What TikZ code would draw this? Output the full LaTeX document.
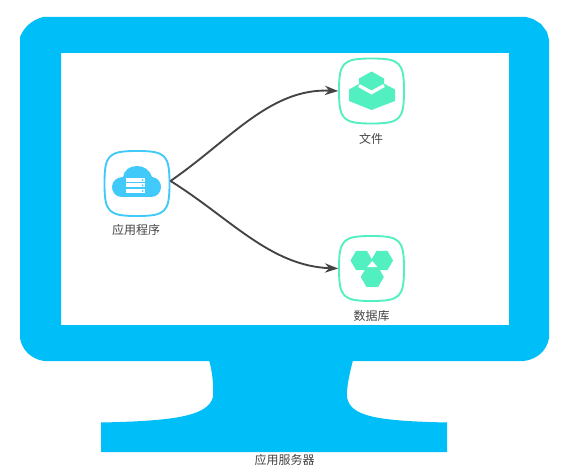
\documentclass[tikz,border=0pt]{standalone}
\usepackage{fontspec}
\setmainfont{Noto Sans CJK SC}
\usetikzlibrary{calc,arrows.meta}
\definecolor{monblue}{HTML}{00BEF7}
\definecolor{cloudblue}{HTML}{40C9F9}
\definecolor{minty}{HTML}{52EFC0}
\definecolor{txtgray}{HTML}{444444}
\tikzset{
  px/.style={x=0.75pt,y=-0.75pt},
  holder/.style={minimum width=48.75pt,minimum height=48.75pt,inner sep=0pt,outer sep=0pt},
  lbl/.style={text=txtgray,font=\fontsize{9pt}{10pt}\selectfont,inner sep=0pt},
  link/.style={draw=txtgray,line width=1.4pt,-{Stealth[length=10pt,width=7pt]}},
  mono/.style={fill=monblue,draw=none}
}
\newcommand{\squircle}[2]{%
  \draw[draw=#2,line width=1.4pt]
    (#1.north) .. controls ($(#1.north)!.88!(#1.north east)$) and ($(#1.east)!.88!(#1.north east)$) .. (#1.east)
    .. controls ($(#1.east)!.88!(#1.south east)$) and ($(#1.south)!.88!(#1.south east)$) .. (#1.south)
    .. controls ($(#1.south)!.88!(#1.south west)$) and ($(#1.west)!.88!(#1.south west)$) .. (#1.west)
    .. controls ($(#1.west)!.88!(#1.north west)$) and ($(#1.north)!.88!(#1.north west)$) .. cycle;}
\begin{document}
\begin{tikzpicture}[px]
\useasboundingbox[fill=white] (0,0) rectangle (575,474);
% monitor
\fill[mono,even odd rule] (43,17) -- (526,17) -- (533,19) -- (541,24) -- (547,32) -- (549,40)
  -- (549,338) .. controls (547,350) and (538,359) .. (524,361)
  -- (44,361) .. controls (31,359) and (22,350) .. (20,338)
  -- (20,37) .. controls (24,27) and (32,20) .. (43,17) -- cycle
  (61,53) rectangle (509,325);
% stand
\fill[mono] (209,360) .. controls (212,370) and (214,386) .. (213,397)
  .. controls (208,416) and (175,421) .. (101,422.5) -- (101,452) -- (447,452) -- (447,422.5)
  .. controls (375,421) and (350,416) .. (347,397)
  .. controls (346.5,386) and (350,372) .. (353,360) -- cycle;
\node[lbl] (srv) at (284.5,459.5) {应用服务器};
% icon holders
\node[holder] (app) at (137,183.5) {};
\node[holder] (file) at (371.5,91) {};
\node[holder] (db) at (371.5,268.5) {};
\squircle{app}{cloudblue}
\squircle{file}{minty}
\squircle{db}{minty}
\node[lbl] (applbl) at (136,229.5) {应用程序};
\node[lbl] (filelbl) at (371,138.5) {文件};
\node[lbl] (dblbl) at (371.5,315.5) {数据库};
% cloud
\fill[cloudblue] (122,197) .. controls (116,197) and (112,192.5) .. (112,187)
  .. controls (112,181) and (117,177) .. (123,177)
  .. controls (124,170) and (130,166) .. (137,166)
  .. controls (144,166) and (150,170) .. (152,177)
  .. controls (157.5,177.5) and (161,182) .. (161,187)
  .. controls (161,192.5) and (157,197) .. (151,197) -- cycle;
\foreach \y in {178,183.5,189}{
  \fill[white] (126,\y) rectangle (145,\y+4);
  \fill[cloudblue] (142.5,\y+2) circle (1);
}
% file icon
\fill[minty] (349,89.5) -- (371.5,77) -- (395,89.5) -- (395,101) -- (371.5,110) -- (349,101) -- cycle;
\draw[white,line width=2.6pt] (359,85.5) -- (371.5,92.5) -- (384,85.5);
\fill[minty] (371.5,71.5) -- (384,78.5) -- (384,83.5) -- (371.5,90) -- (359,83.5) -- (359,78.5) -- cycle;
% database icon
\foreach \cx/\cy/\r in {361.5/260.5/11,382/260.5/11,372.3/277/11.5}{
  \fill[minty] (\cx+\r,\cy) -- (\cx+0.5*\r,\cy+0.866*\r) -- (\cx-0.5*\r,\cy+0.866*\r)
    -- (\cx-\r,\cy) -- (\cx-0.5*\r,\cy-0.866*\r) -- (\cx+0.5*\r,\cy-0.866*\r) -- cycle;
}
\fill[white] (372.3,261) -- (367.2,267) -- (377.4,267) -- cycle;
% connectors
\draw[link] ([yshift=1.9pt,xshift=0.75pt]app.east) .. controls (230,140) and (270,88) .. ([xshift=-0.6pt]file.west);
\draw[link] ([yshift=1.9pt,xshift=0.75pt]app.east) .. controls (230,218) and (270,266) .. ([xshift=-0.6pt]db.west);
\end{tikzpicture}
\end{document}
